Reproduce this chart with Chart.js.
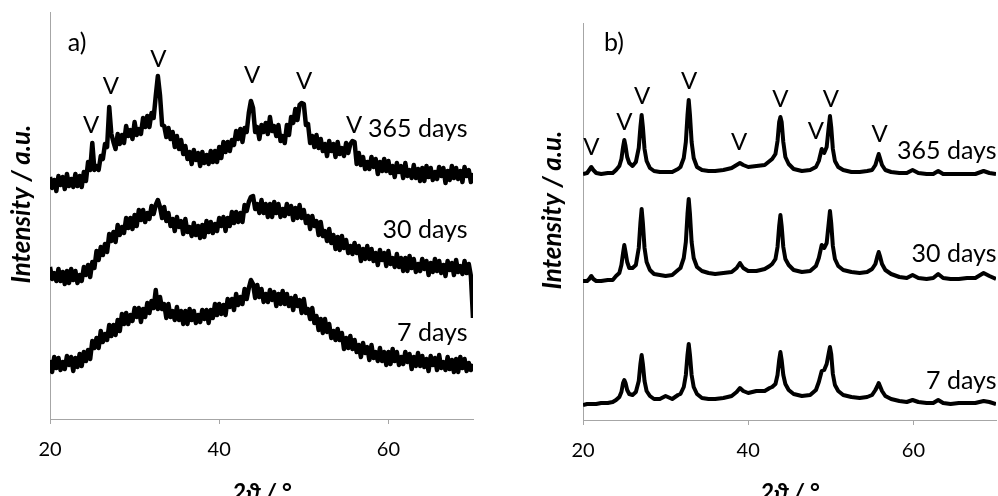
<!DOCTYPE html>
<html>
<head>
<meta charset="utf-8">
<script src="https://cdn.jsdelivr.net/npm/chart.js@4.4.1/dist/chart.umd.min.js"></script>
<style>
	html, body { margin: 0; padding: 0; background: #fff; overflow: hidden; }
	#wrap { position: relative; width: 998px; height: 496px; overflow: hidden; }
	canvas { position: absolute; top: 0; }
	#chartA { left: 0; }
	#chartB { left: 520px; }
</style>
</head>
<body>
<div id="wrap">
	<canvas id="chartA" width="520" height="510"></canvas>
	<canvas id="chartB" width="478" height="510"></canvas>
</div>
<script>
// 2-theta grid of panel a (degrees), 8 points per row = 2 degrees
const xA = [
	20, 20.25, 20.5, 20.75, 21, 21.25, 21.5, 21.75,
	22, 22.25, 22.5, 22.75, 23, 23.25, 23.5, 23.75,
	24, 24.25, 24.5, 24.75, 25, 25.25, 25.5, 25.75,
	26, 26.25, 26.5, 26.75, 27, 27.25, 27.5, 27.75,
	28, 28.25, 28.5, 28.75, 29, 29.25, 29.5, 29.75,
	30, 30.25, 30.5, 30.75, 31, 31.25, 31.5, 31.75,
	32, 32.25, 32.5, 32.75, 33, 33.25, 33.5, 33.75,
	34, 34.25, 34.5, 34.75, 35, 35.25, 35.5, 35.75,
	36, 36.25, 36.5, 36.75, 37, 37.25, 37.5, 37.75,
	38, 38.25, 38.5, 38.75, 39, 39.25, 39.5, 39.75,
	40, 40.25, 40.5, 40.75, 41, 41.25, 41.5, 41.75,
	42, 42.25, 42.5, 42.75, 43, 43.25, 43.5, 43.75,
	44, 44.25, 44.5, 44.75, 45, 45.25, 45.5, 45.75,
	46, 46.25, 46.5, 46.75, 47, 47.25, 47.5, 47.75,
	48, 48.25, 48.5, 48.75, 49, 49.25, 49.5, 49.75,
	50, 50.25, 50.5, 50.75, 51, 51.25, 51.5, 51.75,
	52, 52.25, 52.5, 52.75, 53, 53.25, 53.5, 53.75,
	54, 54.25, 54.5, 54.75, 55, 55.25, 55.5, 55.75,
	56, 56.25, 56.5, 56.75, 57, 57.25, 57.5, 57.75,
	58, 58.25, 58.5, 58.75, 59, 59.25, 59.5, 59.75,
	60, 60.25, 60.5, 60.75, 61, 61.25, 61.5, 61.75,
	62, 62.25, 62.5, 62.75, 63, 63.25, 63.5, 63.75,
	64, 64.25, 64.5, 64.75, 65, 65.25, 65.5, 65.75,
	66, 66.25, 66.5, 66.75, 67, 67.25, 67.5, 67.75,
	68, 68.25, 68.5, 68.75, 69, 69.25, 69.5, 69.75,
	70
];
// intensities (a.u., already stacked) panel a, noisy raw scans
const a365 = [
	242, 231, 239, 228, 243, 234, 242, 230,
	245, 233, 240, 232, 245, 233, 243, 232,
	247, 238, 257, 249, 276, 249, 253, 249,
	263, 260, 275, 272, 312, 285, 277, 270,
	285, 275, 284, 276, 293, 283, 289, 280,
	297, 284, 290, 285, 301, 292, 303, 292,
	306, 301, 323, 343, 324, 294, 293, 282,
	291, 280, 287, 272, 283, 270, 279, 265,
	273, 260, 267, 255, 269, 259, 266, 253,
	267, 256, 264, 255, 268, 257, 268, 257,
	272, 261, 277, 267, 277, 268, 279, 274,
	288, 280, 290, 277, 291, 287, 306, 318,
	311, 287, 292, 280, 294, 287, 296, 285,
	302, 288, 293, 283, 294, 278, 283, 276,
	294, 284, 302, 296, 310, 299, 314, 316,
	315, 294, 295, 276, 283, 272, 284, 271,
	280, 268, 275, 263, 278, 268, 275, 262,
	277, 265, 271, 263, 276, 266, 275, 278,
	277, 255, 266, 254, 262, 250, 257, 250,
	262, 252, 260, 245, 257, 248, 260, 248,
	258, 246, 253, 242, 256, 247, 253, 241,
	256, 243, 249, 241, 254, 241, 250, 238,
	251, 238, 253, 242, 251, 239, 247, 240,
	252, 243, 251, 236, 248, 239, 253, 241,
	251, 240, 248, 237, 252, 243, 249, 237,
	246
];
const a30 = [
	152, 140, 146, 138, 150, 138, 147, 135,
	148, 136, 150, 139, 148, 136, 144, 138,
	152, 144, 154, 142, 157, 151, 168, 159,
	172, 164, 175, 167, 185, 178, 187, 177,
	194, 184, 192, 186, 201, 191, 201, 190,
	204, 193, 209, 199, 209, 197, 206, 200,
	213, 205, 214, 219, 212, 201, 212, 198,
	206, 193, 200, 188, 202, 192, 198, 185,
	200, 187, 192, 183, 196, 184, 193, 181,
	194, 182, 198, 187, 197, 186, 195, 188,
	201, 193, 202, 188, 201, 193, 207, 196,
	207, 197, 206, 197, 214, 208, 217, 222,
	223, 210, 215, 206, 219, 206, 215, 202,
	215, 202, 217, 206, 215, 202, 210, 203,
	215, 205, 213, 199, 211, 201, 214, 201,
	209, 196, 203, 190, 203, 193, 198, 184,
	197, 183, 188, 178, 190, 176, 184, 170,
	182, 169, 183, 171, 179, 166, 173, 165,
	176, 166, 173, 158, 170, 160, 173, 160,
	170, 158, 166, 154, 169, 159, 166, 153,
	168, 155, 161, 152, 165, 152, 161, 148,
	161, 148, 163, 151, 160, 147, 155, 148,
	160, 150, 158, 144, 156, 147, 160, 148,
	158, 146, 154, 143, 158, 149, 156, 144,
	159, 147, 153, 145, 158, 146, 155, 143,
	101
];
const a7 = [
	59, 47, 62, 51, 61, 49, 57, 50,
	63, 54, 62, 48, 61, 52, 65, 53,
	67, 58, 69, 60, 78, 71, 81, 71,
	88, 77, 85, 79, 94, 83, 94, 84,
	99, 88, 105, 95, 106, 95, 104, 98,
	111, 102, 111, 97, 110, 102, 116, 106,
	118, 111, 129, 110, 122, 110, 115, 101,
	115, 102, 108, 99, 112, 99, 108, 95,
	108, 95, 110, 99, 108, 96, 104, 97,
	109, 100, 109, 96, 109, 101, 115, 104,
	115, 105, 114, 104, 120, 112, 120, 109,
	125, 114, 122, 115, 130, 120, 131, 139,
	135, 121, 134, 122, 130, 117, 125, 117,
	129, 119, 127, 113, 125, 115, 128, 115,
	125, 113, 121, 109, 123, 113, 119, 106,
	120, 106, 110, 100, 111, 96, 103, 89,
	100, 86, 100, 87, 95, 81, 88, 79,
	90, 79, 86, 70, 81, 71, 83, 70,
	79, 67, 74, 62, 76, 66, 72, 59,
	74, 61, 67, 58, 71, 58, 67, 54,
	67, 55, 70, 58, 67, 54, 62, 55,
	67, 57, 65, 50, 62, 53, 66, 53,
	63, 52, 60, 48, 63, 54, 61, 49,
	64, 51, 57, 49, 62, 50, 59, 47,
	60, 47, 62, 51, 60, 48, 56, 49,
	55
];

// 2-theta grid of panel b (denser round the reflections)
const xB = [
	20, 20.5, 20.75, 21.0, 21.25, 21.6, 22.2, 23, 23.6, 24.0,
	24.4, 24.65, 24.85, 25.0, 25.15, 25.35, 25.6, 26.0, 26.4, 26.75,
	26.95, 27.1, 27.25, 27.45, 27.7, 28.1, 28.6, 29.3, 30, 30.8,
	31.5, 31.8, 32.2, 32.45, 32.65, 32.8, 32.95, 33.15, 33.4, 33.8,
	34.4, 35.2, 36, 37, 38, 38.6, 39.0, 39.4, 40, 41,
	42, 42.6, 42.9, 43.3, 43.55, 43.75, 43.9, 44.05, 44.25, 44.5,
	44.9, 45.5, 46.5, 47.5, 48.2, 48.55, 48.9, 49.2, 49.5, 49.75,
	49.9, 50.05, 50.25, 50.5, 50.9, 51.5, 52.5, 53.5, 54.4, 55.0,
	55.4, 55.65, 55.8, 55.95, 56.2, 56.6, 57.3, 58.3, 59.2, 59.9,
	60.6, 61.6, 62.4, 63.0, 63.6, 64.5, 65.5, 66.5, 67.5, 68.5,
	69.2, 70
];
const b365 = [
	246, 247, 250, 253, 250, 247, 246, 247, 247, 250,
	254, 261, 273, 280, 274, 263, 257, 254, 258, 272,
	293, 305, 293, 271, 259, 252, 249, 248, 248, 248,
	251, 253, 262, 278, 305, 320, 305, 278, 262, 253,
	250, 249, 249, 250, 252, 255, 257, 255, 253, 254,
	255, 259, 261, 266, 279, 298, 303, 298, 278, 263,
	256, 251, 249, 250, 253, 259, 271, 267, 273, 293,
	304, 293, 271, 259, 253, 250, 248, 248, 249, 250,
	255, 262, 266, 262, 255, 250, 248, 247, 247, 250,
	247, 246, 246, 249, 246, 246, 246, 246, 246, 249,
	247, 246
];
const b30 = [
	139, 139, 141, 144, 141, 139, 139, 140, 140, 144,
	147, 155, 167, 175, 168, 158, 152, 152, 155, 172,
	197, 211, 197, 172, 158, 150, 146, 145, 144, 145,
	150, 152, 162, 178, 206, 221, 206, 178, 162, 153,
	149, 147, 146, 147, 148, 152, 157, 152, 149, 149,
	151, 154, 156, 161, 173, 194, 205, 194, 173, 161,
	155, 150, 148, 149, 154, 162, 175, 172, 177, 197,
	209, 197, 174, 161, 154, 150, 148, 147, 148, 151,
	156, 164, 168, 164, 156, 150, 146, 143, 142, 145,
	142, 141, 142, 146, 142, 141, 141, 142, 142, 147,
	144, 141
];
const b7 = [
	15, 16, 16, 16, 16, 16, 17, 17, 18, 20,
	23, 28, 37, 40, 37, 30, 26, 25, 28, 39,
	56, 65, 56, 39, 29, 24, 21, 21, 24, 21,
	25, 26, 33, 45, 65, 76, 65, 45, 33, 26,
	22, 21, 21, 22, 24, 28, 32, 29, 27, 29,
	29, 32, 33, 36, 45, 60, 68, 60, 45, 36,
	30, 26, 24, 25, 30, 38, 49, 50, 56, 67,
	73, 66, 46, 35, 29, 25, 23, 22, 23, 25,
	30, 34, 37, 34, 29, 24, 21, 19, 18, 20,
	18, 17, 17, 20, 17, 16, 17, 17, 17, 19,
	18, 16
];

const xTicks = [20, 40, 60];
const sampleNames = ['365 days', '30 days', '7 days'];

// "V" reflection marks and sample labels, in data units
const markAX = [24.85, 27.2, 32.8, 43.9, 50.05, 55.95];
const markAY = [294, 333, 360, 344, 338, 294];
const markBX = [21.0, 25.0, 27.15, 32.85, 38.9, 43.9, 48.2, 50.0, 55.9];
const markBY = [273, 298, 324, 339, 278, 321, 289, 321, 286];
const nameAX = 69.35;
const nameAY = [290, 189, 86];
const nameBX = 70.06;
const nameBY = [269, 166, 39];

const AXIS = '#a6a6a6';
const FONT = 'Lato, "Open Sans", sans-serif';

function marksPlugin(cfg) {
	return {
		id: 'marks',
		afterDatasetsDraw(chart) {
			const ctx = chart.ctx;
			const x = chart.scales.x;
			const y = chart.scales.y;
			ctx.save();
			ctx.fillStyle = '#000';
			ctx.textBaseline = 'middle';
			ctx.font = '24px ' + FONT;
			ctx.textAlign = 'center';
			cfg.markX.forEach((v, i) => ctx.fillText('V', x.getPixelForValue(v), y.getPixelForValue(cfg.markY[i])));
			ctx.font = '25px ' + FONT;
			ctx.fillText(cfg.panel, x.getPixelForValue(cfg.panelX), y.getPixelForValue(cfg.panelY));
			ctx.textAlign = 'right';
			sampleNames.forEach((s, i) => ctx.fillText(s, x.getPixelForValue(cfg.nameX), y.getPixelForValue(cfg.nameY[i])));
			ctx.restore();
		}
	};
}

function buildChart(id, cfg) {
	return new Chart(document.getElementById(id), {
		type: 'line',
		data: {
			datasets: cfg.series.map(s => ({
				data: cfg.xs.map((x, i) => ({ x: x, y: s[i] })),
				borderColor: '#000',
				borderWidth: cfg.lineWidth,
				borderJoinStyle: 'round',
				pointRadius: 0,
				tension: 0,
				fill: false
			}))
		},
		options: {
			responsive: false,
			animation: false,
			devicePixelRatio: 1,
			layout: { padding: { left: 0, right: cfg.padRight, top: cfg.padTop, bottom: 0 } },
			plugins: { legend: { display: false }, tooltip: { enabled: false } },
			scales: {
				x: {
					type: 'linear',
					min: 20,
					max: 70,
					afterBuildTicks: s => { s.ticks = xTicks.map(v => ({ value: v })); },
					afterFit: s => { s.height = cfg.xHeight; },
					grid: { drawOnChartArea: false, tickLength: 5, color: AXIS },
					border: { color: AXIS, width: 1 },
					ticks: { padding: 14, color: '#000', font: { family: FONT, size: 20 } },
					title: {
						display: true,
						text: '2ϑ / °',
						color: '#000',
						font: { family: FONT, size: 24, style: 'italic', weight: 'bold' },
						padding: { top: 0, bottom: 2 }
					}
				},
				y: {
					min: 0,
					max: cfg.yMax,
					afterFit: s => { s.width = cfg.yWidth; },
					ticks: { display: false },
					grid: { display: false },
					border: { color: AXIS, width: 1 },
					title: {
						display: true,
						text: '    Intensity / a.u.',
						color: '#000',
						font: { family: FONT, size: 26, style: 'italic', weight: 'bold' },
						padding: { top: cfg.yTitlePad, bottom: 0 }
					}
				}
			}
		},
		plugins: [marksPlugin(cfg)]
	});
}

document.addEventListener('DOMContentLoaded', () => {
	buildChart('chartA', {
		xs: xA, series: [a365, a30, a7], lineWidth: 4.5,
		padRight: 47, padTop: 12, xHeight: 91, yWidth: 50, yMax: 407, yTitlePad: 6,
		markX: markAX, markY: markAY, nameX: nameAX, nameY: nameAY,
		panel: 'a)', panelX: 23.2, panelY: 376
	});
	buildChart('chartB', {
		xs: xB, series: [b365, b30, b7], lineWidth: 4,
		padRight: 2, padTop: 23, xHeight: 90, yWidth: 63, yMax: 397, yTitlePad: 17,
		markX: markBX, markY: markBY, nameX: nameBX, nameY: nameBY,
		panel: 'b)', panelX: 23.75, panelY: 377
	});
});
</script>
</body>
</html>
